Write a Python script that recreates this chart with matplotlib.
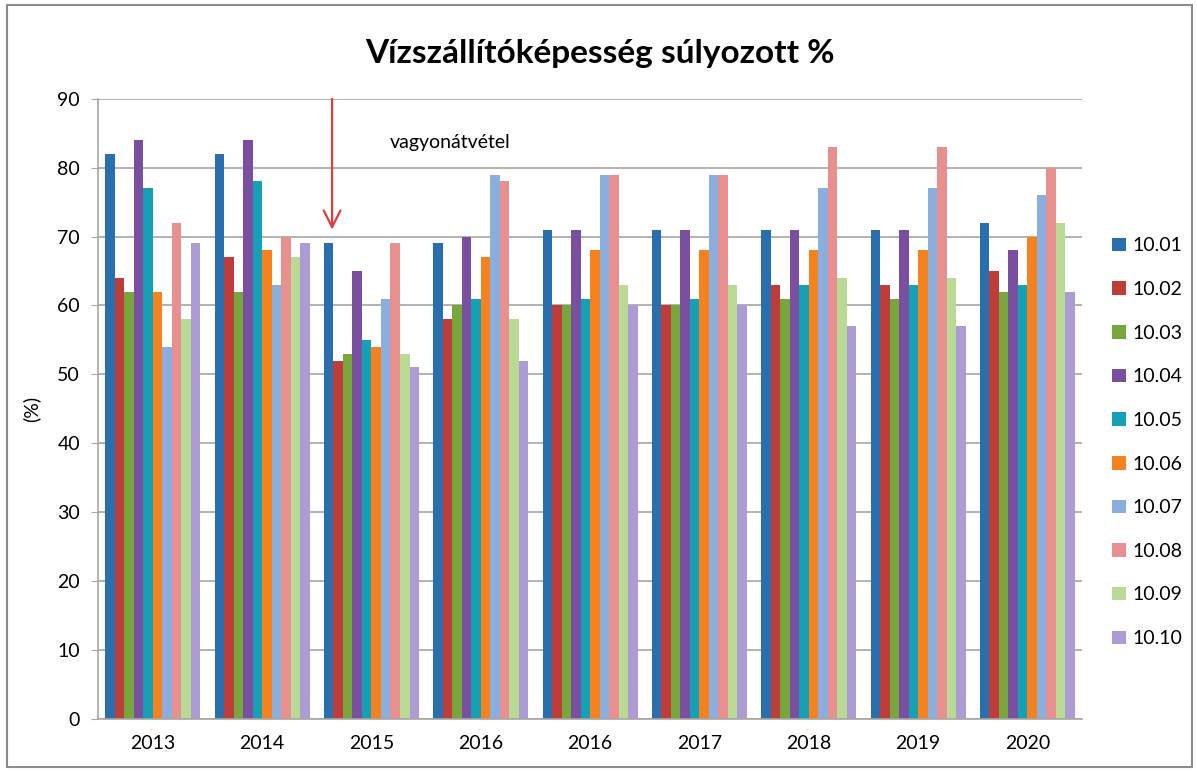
import numpy as np
import matplotlib.pyplot as plt
from matplotlib.patches import Rectangle

plt.rcParams["font.family"] = ["Lato", "DejaVu Sans"]

years = ["2013", "2014", "2015", "2016", "2016", "2017", "2018", "2019", "2020"]
series = ["10.01", "10.02", "10.03", "10.04", "10.05",
          "10.06", "10.07", "10.08", "10.09", "10.10"]

# one row per series, one value per year
v1001 = [82, 82, 69, 69, 71, 71, 71, 71, 72]
v1002 = [64, 67, 52, 58, 60, 60, 63, 63, 65]
v1003 = [62, 62, 53, 60, 60, 60, 61, 61, 62]
v1004 = [84, 84, 65, 70, 71, 71, 71, 71, 68]
v1005 = [77, 78, 55, 61, 61, 61, 63, 63, 63]
v1006 = [62, 68, 54, 67, 68, 68, 68, 68, 70]
v1007 = [54, 63, 61, 79, 79, 79, 77, 77, 76]
v1008 = [72, 70, 69, 78, 79, 79, 83, 83, 80]
v1009 = [58, 67, 53, 58, 63, 63, 64, 64, 72]
v1010 = [69, 69, 51, 52, 60, 60, 57, 57, 62]
values = [v1001, v1002, v1003, v1004, v1005, v1006, v1007, v1008, v1009, v1010]

colors = ["#2a6fad", "#be3c3a", "#77a73c", "#7a4f9f", "#14a1b5",
          "#f5821f", "#8aaedd", "#e8908f", "#b9da95", "#ad9bd3"]

fig = plt.figure(figsize=(11.97, 7.72), dpi=100)
fig.patches.append(Rectangle((0.006, 0.006), 0.99, 0.988, transform=fig.transFigure,
                             fill=False, edgecolor="#8c8c8c", linewidth=1.5))
ax = fig.add_axes([0.082, 0.069, 0.822, 0.803])

x = np.arange(len(years))
w = 0.087
for i, (name, vals) in enumerate(zip(series, values)):
    ax.bar(x + (i - 4.5) * w, vals, width=w, color=colors[i], label=name, zorder=2)

ax.set_xlim(-0.5, len(years) - 0.5)
ax.set_ylim(0, 90)
ax.set_yticks(range(0, 91, 10))
ax.set_xticks(x)
ax.set_xticklabels(years)
ax.yaxis.grid(True, color="#a8a5a2", linewidth=1.2, zorder=0)
ax.set_axisbelow(True)
for s in ["top", "right"]:
    ax.spines[s].set_visible(False)
for s in ["left", "bottom"]:
    ax.spines[s].set_color("#a8a5a2")
    ax.spines[s].set_linewidth(1.2)
ax.tick_params(axis="y", length=5, color="#a8a5a2", labelsize=14, pad=8)
ax.tick_params(axis="x", length=0, labelsize=14, pad=12)
ax.set_ylabel("(%)", fontsize=14, labelpad=12)

ax.set_title("Vízszállítóképesség súlyozott %", fontsize=24, fontweight="bold",
             pad=26, x=0.51)

ax.annotate("", xy=(1.64, 70.6), xytext=(1.64, 90.4),
            arrowprops=dict(arrowstyle="->", color="#d9403a", lw=1.6,
                            mutation_scale=30),
            annotation_clip=False)
ax.text(2.17, 83.6, "vagyonátvétel", fontsize=14, va="center", ha="left")

ax.legend(loc="center left", bbox_to_anchor=(1.013, 0.446), frameon=False,
          fontsize=14, handlelength=0.7, handleheight=0.7, labelspacing=1.37,
          handletextpad=0.35)

fig.savefig("out.png", dpi=100)
